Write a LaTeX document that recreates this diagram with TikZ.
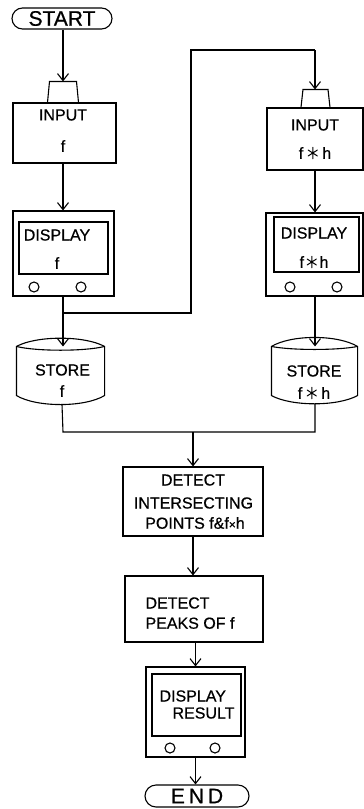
\documentclass[tikz,border=0pt]{standalone}
\usepackage{fontspec}
\setmainfont{Liberation Sans}
\newfontfamily\lettering{Liberation Sans}[FakeBold=0.6]
\usetikzlibrary{arrows.meta,calc,shapes.misc}
% six-spoked convolution star, drawn as three strokes
\newcommand{\cstar}{\tikz[baseline=0pt,x=1pt,y=1pt,line width=1pt,line cap=round]{%
  \draw (0,0) -- (0,11.5) (-4.6,2.8) -- (4.6,8.7) (-4.6,8.7) -- (4.6,2.8);}}
\begin{document}
\begin{tikzpicture}[x=1pt,y=-1pt,line width=1.1pt,
  flow/.style={-{Straight Barb[length=7pt,width=11pt]}},
  box/.style={draw,rectangle,inner sep=0pt},
  txt/.style={inner sep=0pt,font=\lettering\fontsize{16}{20}\selectfont},
  term/.style={draw,rounded rectangle,inner sep=0pt,font=\lettering\fontsize{21}{21}\selectfont},
  knob/.style={draw,circle,minimum size=10pt,inner sep=0pt},
  ghost/.style={inner sep=0pt}]
\useasboundingbox (0,0) rectangle (364,809);

% ---------- left column ----------
\node[term,minimum width=100pt,minimum height=21pt] (start) at (62,18.5) {START};

\node[box,minimum width=103pt,minimum height=60pt] (in1) at (64.5,133) {};
\draw ($(in1.north)+(-17,0)$) -- ($(in1.north)+(-15,-21)$) -- ($(in1.north)+(12,-21)$) -- ($(in1.north)+(14,0)$);
\coordinate (tab1) at ($(in1.north)+(-1.5,-21)$);
\node[txt] (in1a) at (63,115) {INPUT};
\node[txt] (in1b) at (63,146) {f};

\node[box,minimum width=101pt,minimum height=85pt] (d1) at (63.5,253.5) {};
\node[box,minimum width=89pt,minimum height=52pt] (d1s) at (63.5,248) {};
\node[knob] (d1k1) at (34,287) {};
\node[knob] (d1k2) at (81,287) {};
\node[txt] (d1a) at (57,235) {DISPLAY};
\node[txt] (d1b) at (57,263) {f};

\node[ghost,minimum width=87pt,minimum height=48pt] (s1) at (60.5,371) {};
\draw (s1.north west) .. controls +(20,-11) and +(-20,-11) .. (s1.north east)
      -- (s1.south east) .. controls +(-20,12) and +(20,12) .. (s1.south west) -- cycle;
\draw (s1.north west) .. controls +(20,5) and +(-20,5) .. (s1.north east);
\coordinate (s1b) at ($(s1.south)+(1.5,9)$);
\node[txt] (s1a) at (62.5,370) {STORE};
\node[txt] (s1c) at (62,391) {f};

% ---------- right column ----------
\node[box,minimum width=96pt,minimum height=62pt] (in2) at (315,139) {};
\draw ($(in2.north)+(-14,0)$) -- ($(in2.north)+(-12,-18)$) -- ($(in2.north)+(13,-18)$) -- ($(in2.north)+(15,0)$);
\coordinate (tab2) at ($(in2.north)+(0,-18)$);
\node[txt] (in2a) at (315,125) {INPUT};
\node[txt] (in2b) at (315,153) {f \cstar\ h};

\node[box,minimum width=97pt,minimum height=83pt] (d2) at (314.5,254.5) {};
\node[box,minimum width=85pt,minimum height=55pt] (d2s) at (316.5,244.5) {};
\node[knob] (d2k1) at (290,287) {};
\node[knob] (d2k2) at (337,287) {};
\node[txt] (d2a) at (314,233) {DISPLAY};
\node[txt] (d2b) at (314,262) {f\,\cstar\,h};

\node[ghost,minimum width=85pt,minimum height=48pt] (s2) at (314.5,371) {};
\draw (s2.north west) .. controls +(20,-12) and +(-20,-12) .. (s2.north east)
      -- (s2.south east) .. controls +(-20,11) and +(20,11) .. (s2.south west) -- cycle;
\draw (s2.north west) .. controls +(20,4) and +(-20,4) .. (s2.north east);
\coordinate (s2b) at ($(s2.south)+(0.5,8)$);
\node[txt] (s2a) at (314,371) {STORE};
\node[txt] (s2c) at (314,393) {f \cstar\ h};

% ---------- centre column ----------
\node[box,minimum width=140pt,minimum height=69pt] (det1) at (193,501.5) {};
\node[txt] (det1a) at (193,480) {DETECT};
\node[txt] (det1b) at (193.5,503) {INTERSECTING};
\node[txt] (det1c) at (195,523) {POINTS f\&f{\fontsize{12}{12}\selectfont ×}h};

\node[box,minimum width=138pt,minimum height=66pt] (det2) at (194,609) {};
\node[txt,anchor=west] (det2a) at (145,603) {DETECT};
\node[txt,anchor=west] (det2b) at (145,623) {PEAKS OF f};

\node[box,minimum width=99pt,minimum height=90pt] (d3) at (195.5,712) {};
\node[box,minimum width=89pt,minimum height=62pt] (d3s) at (196.5,705) {};
\node[knob] (d3k1) at (170,748) {};
\node[knob] (d3k2) at (215,748) {};
\node[txt,anchor=west] (d3a) at (159,696) {DISPLAY};
\node[txt,anchor=west] (d3b) at (172,713) {RESULT};

\node[term,minimum width=104pt,minimum height=22pt] (end) at (197,796) {E\hspace{4pt}N\hspace{4pt}D};

% ---------- connectors ----------
\coordinate (br) at (63,313);
\coordinate (brr) at (191,313);
\coordinate (up) at (191,50);
\coordinate (upr) at (315,50);
\coordinate (j1) at (63,432);
\coordinate (j2) at (315,432);
\coordinate (jm) at (193,432);

\draw[flow] (start.south -| tab1) -- (tab1);
\draw[flow] (in1.south -| tab1) -- (d1.north -| tab1);
\draw (d1.south -| br) -- (br);
\draw[flow] (br) -- (s1.north -| br);
\draw (br) -- (brr) -- (up) -- (upr);
\draw[flow] (upr) -- (tab2);
\draw[flow] (in2.south -| tab2) -- (d2.north -| tab2);
\draw[flow] (d2.south -| tab2) -- (s2.north -| tab2);
\draw (s1b) -- (j1) -- (j2) -- (s2b);
\draw[flow] (jm) -- (det1.north -| jm);
\draw[flow] (det1.south -| jm) -- (det2.north -| jm);
\draw[flow] (det2.south -| d3) -- (d3.north);
\draw[flow] (d3.south) -- (end.north -| d3);
\end{tikzpicture}
\end{document}
